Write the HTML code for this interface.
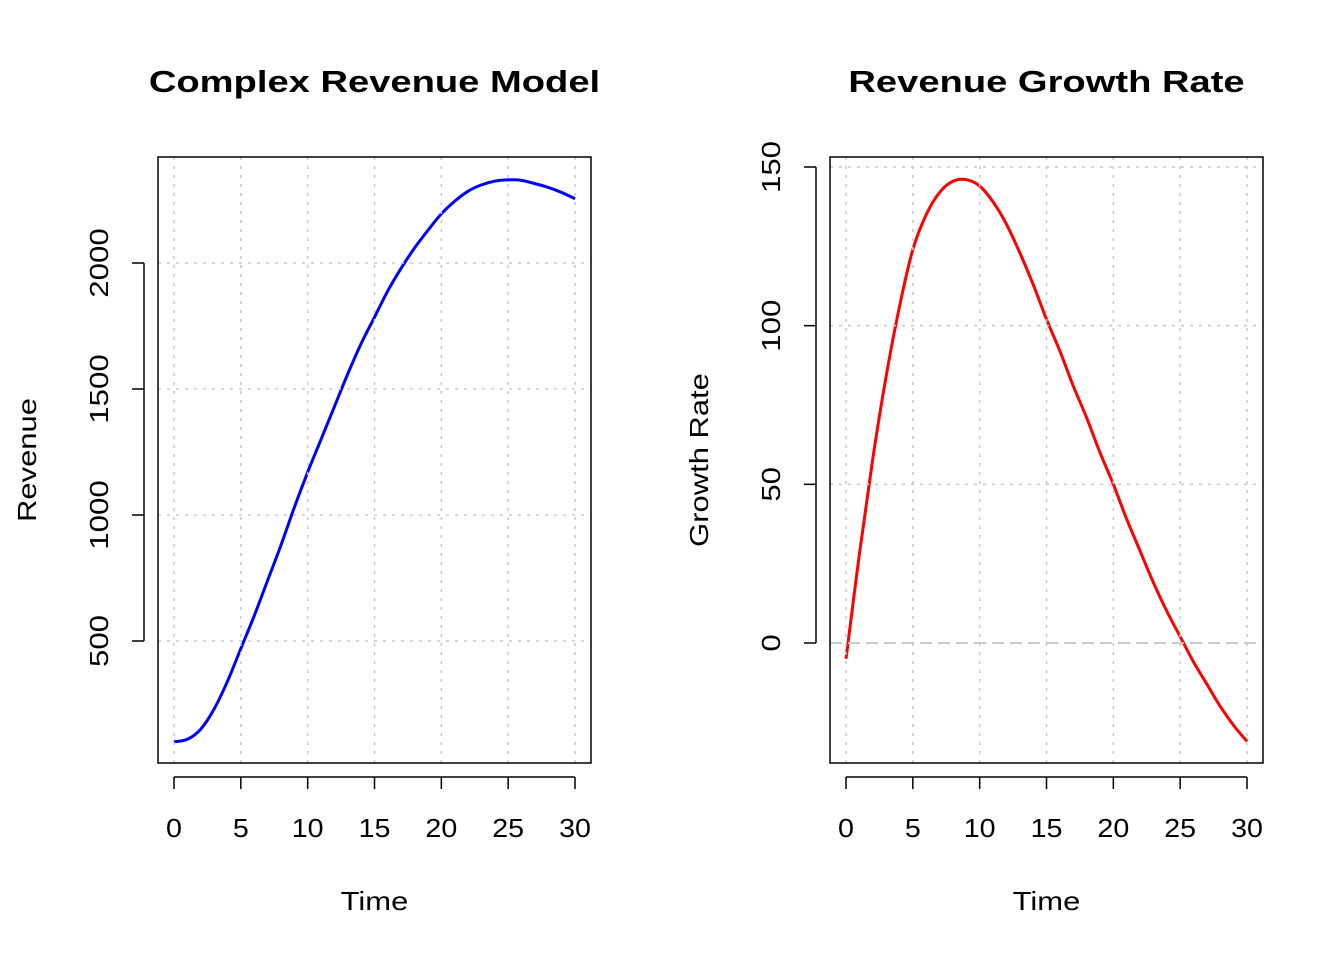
<!DOCTYPE html>
<html><head><meta charset="utf-8"><style>
html,body{margin:0;padding:0;background:#fff;}
svg{display:block;font-family:"Liberation Sans",Arial,sans-serif;}
</style></head><body>
<svg id="c" width="1344" height="960" viewBox="0 0 1344 960"></svg>
<script>
const times=[0,1,2,3,4,5,6,7,8,9,10,11,12,13,14,15,16,17,18,19,20,21,22,23,24,25,26,27,28,29,30];
const revenue=[100,110,150,230,340,470,600,740,880,1030,1170,1300,1430,1560,1680,1785,1890,1980,2060,2130,2195,2245,2285,2310,2325,2330,2328,2315,2300,2280,2255];
const growth=[-5,28,58,84,106,124,135,142,145.5,146,144,139,132,123,113,102,92,81,71,60,50,39,29,19,10,2,-6,-13,-20,-26,-31];
const xTicks=[0,5,10,15,20,25,30];
const revTicks=[500,1000,1500,2000];
const growTicks=[0,50,100,150];
const NS="http://www.w3.org/2000/svg";
const svg=document.getElementById('c');
function mk(tag,attrs,parent){const e=document.createElementNS(NS,tag);for(const k in attrs)e.setAttribute(k,attrs[k]);(parent||svg).appendChild(e);return e;}
function stretch(t,f){const w=t.getComputedTextLength();if(w>0){t.setAttribute('textLength',w*f);t.setAttribute('lengthAdjust','spacingAndGlyphs');}}
function panel(o){
  const g=mk('g',{});
  
  
  const xs=v=>o.x0+(v-0)*(o.x30-o.x0)/30;
  const ys=v=>o.yA+(v-o.vA)*(o.yB-o.yA)/(o.vB-o.vA);
  const pts=times.map((t,i)=>[xs(t),ys(o.vals[i])]);
  let d='M'+pts[0][0]+','+pts[0][1];
  for(let i=0;i<pts.length-1;i++){const p0=pts[Math.max(0,i-1)],p1=pts[i],p2=pts[i+1],p3=pts[Math.min(pts.length-1,i+2)];
    d+=' C'+(p1[0]+(p2[0]-p0[0])/6)+','+(p1[1]+(p2[1]-p0[1])/6)+' '+(p2[0]-(p3[0]-p1[0])/6)+','+(p2[1]-(p3[1]-p1[1])/6)+' '+p2[0]+','+p2[1];}
  const s=mk('path',{d:d,fill:'none',stroke:o.color,'stroke-width':3},g);
  
  xTicks.forEach(t=>{const l=mk('line',{x1:xs(t),x2:xs(t),y1:o.top,y2:o.bot,stroke:'#c8c8c8','stroke-width':1.5,'stroke-dasharray':'3,6'},g);
    });
  o.yt.forEach(t=>{const l=mk('line',{x1:o.left,x2:o.right,y1:ys(t),y2:ys(t),stroke:'#c8c8c8','stroke-width':1.5,'stroke-dasharray':'3,6'},g);
    });
  if(o.zero){const z=mk('line',{x1:o.left,x2:o.right,y1:ys(0),y2:ys(0),stroke:'#bdbdbd','stroke-width':1.5,'stroke-dasharray':'12,6'},g);
    }
  const b=mk('rect',{x:o.left,y:o.top,width:o.right-o.left,height:o.bot-o.top,fill:'none',stroke:'#000','stroke-width':1.5},g);
  
  const ax=mk('line',{x1:xs(0),x2:xs(30),y1:o.bot+14,y2:o.bot+14,stroke:'#000','stroke-width':1.5},g);
  
  xTicks.forEach(t=>{mk('line',{x1:xs(t),x2:xs(t),y1:o.bot+14,y2:o.bot+26,stroke:'#000','stroke-width':1.5},g);
    const tx=mk('text',{x:xs(t),y:o.bot+74,'font-size':26,'text-anchor':'middle'},g);tx.textContent=t;
    stretch(tx,1.1);});
  const yl=mk('line',{x1:o.left-14,x2:o.left-14,y1:ys(o.yt[0]),y2:ys(o.yt[o.yt.length-1]),stroke:'#000','stroke-width':1.5},g);
  
  o.yt.forEach(t=>{mk('line',{x1:o.left-26,x2:o.left-14,y1:ys(t),y2:ys(t),stroke:'#000','stroke-width':1.5},g);
    const tx=mk('text',{x:0,y:0,'font-size':26,'text-anchor':'middle',transform:'translate('+(o.left-50)+','+ys(t)+') rotate(-90)'},g);tx.textContent=t;
    stretch(tx,1.2);});
  const cx=(o.left+o.right)/2;
  const ti=mk('text',{x:cx,y:92,'font-size':31,'font-weight':'bold','text-anchor':'middle'},g);ti.textContent=o.title;
  stretch(ti,1.23);
  const xl=mk('text',{x:cx,y:910,'font-size':26,'text-anchor':'middle'},g);xl.textContent='Time';
  stretch(xl,1.19);
  const yt=mk('text',{x:0,y:0,'font-size':26,'text-anchor':'middle',transform:'translate('+(o.left-122)+','+((o.top+o.bot)/2)+') rotate(-90)'},g);yt.textContent=o.ylab;
  stretch(yt,1.19);
}
panel({name:'revenue-panel',seriesName:'revenue-line',left:158,right:591,top:157,bot:763,x0:174,x30:575,vA:500,yA:641,vB:2000,yB:263,yt:revTicks,vals:revenue,color:'#0000ff',title:'Complex Revenue Model',ylab:'Revenue',zero:false});
panel({name:'growth-panel',seriesName:'growth-rate-line',left:830,right:1263,top:157,bot:763,x0:846,x30:1247,vA:0,yA:643,vB:150,yB:167,yt:growTicks,vals:growth,color:'#ff0000',title:'Revenue Growth Rate',ylab:'Growth Rate',zero:true});
</script>
</body></html>
